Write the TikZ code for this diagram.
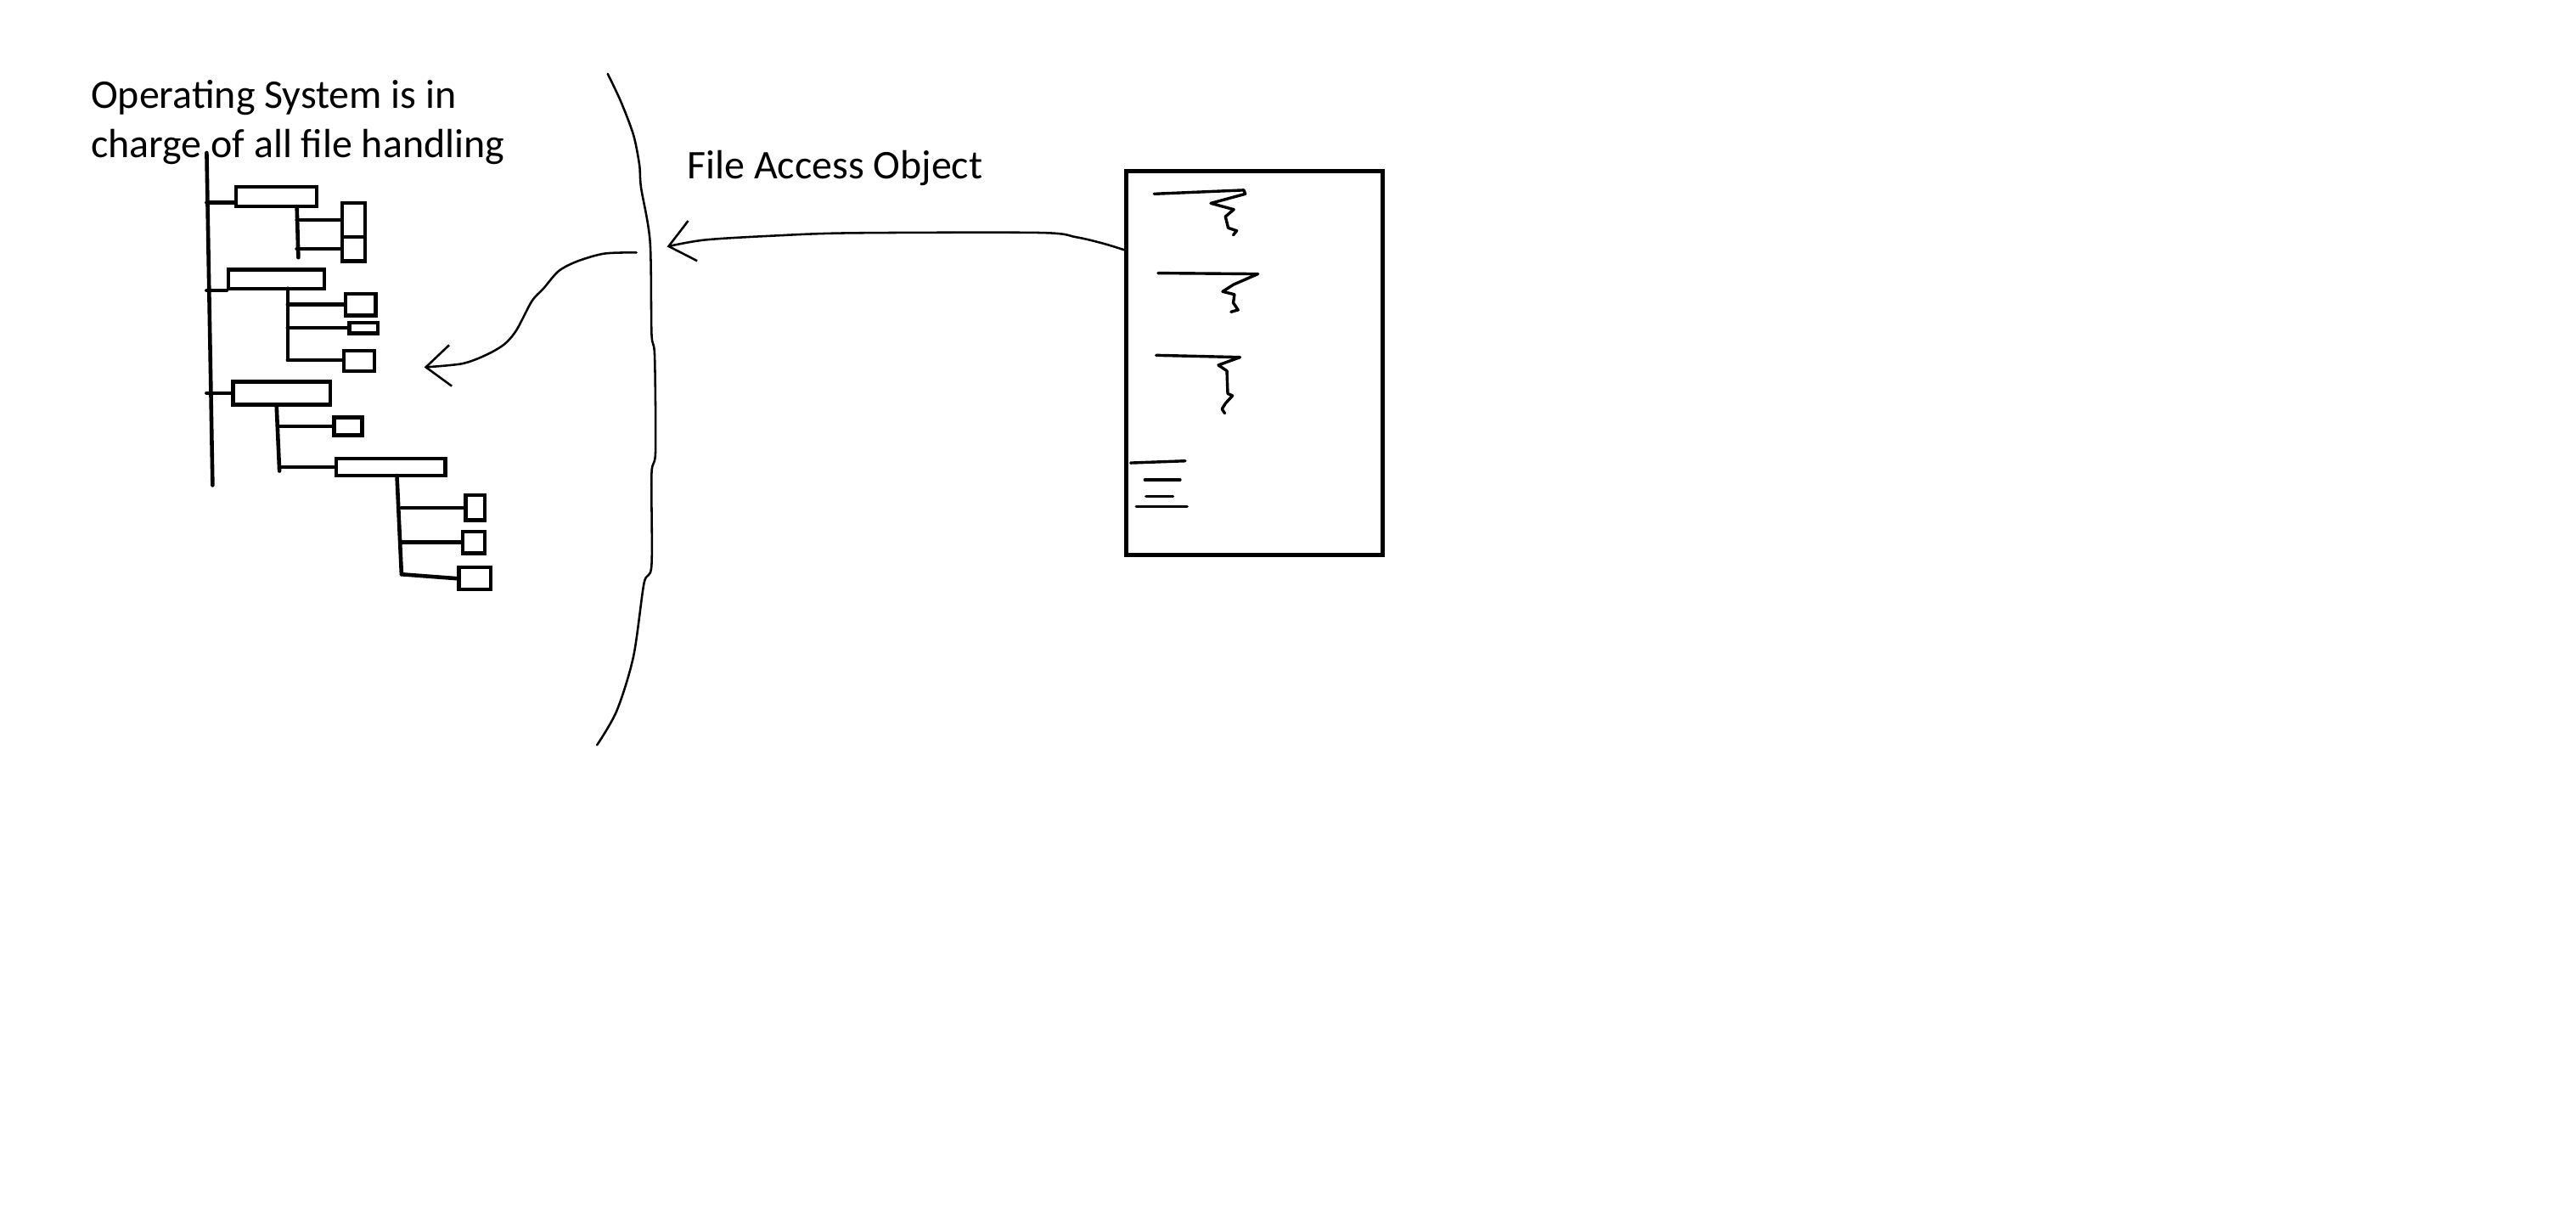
\documentclass[tikz,border=0pt]{standalone}
\usepackage{fontspec}
\setmainfont{Carlito}
\usetikzlibrary{arrows.meta,fit}
\begin{document}
\begin{tikzpicture}[x=0.02cm,y=-0.02cm]
	% Styles
	\tikzstyle{trait}=[line width=1.35pt,line cap=round]
	\tikzstyle{boite}=[draw,line width=1.3pt,inner sep=0pt]
	\tikzstyle{crayon}=[line width=0.75pt,line cap=round,line join=round]
	\tikzstyle{fleche}=[crayon,-{Straight Barb[length=3mm,width=5mm]}]
	\tikzstyle{gribouillis}=[line width=1pt,line cap=round,line join=round]
	\tikzstyle{feuillet}=[draw,line width=1.5pt,inner sep=0pt]
	\tikzstyle{texte}=[inner sep=0pt,font=\fontsize{14.1}{17}\selectfont]
	% Cadre
	\useasboundingbox (0,0) rectangle (1568,747);
	% Textes
	\node[texte,anchor=north west,align=left] (os) at (55,48.5) {Operating System is in\\charge of all file handling};
	\node[texte,anchor=base west] (fao) at (418,109) {File Access Object};
	% Arborescence : tronc
	\coordinate (T0) at (125.8,93);
	\coordinate (T1) at (129.4,295.3);
	\draw[trait] (T0)--(T1);
	% Dossier A
	\node[boite,fit={(143.8,113.6) (192.7,125.6)}] (A) {};
	\draw[trait] (A.south west|-0,123.4)--(T0|-0,123.4);
	\coordinate (A0) at (180.7,125.6);
	\coordinate (A1) at (181.6,156.7);
	\draw[trait] (A0)--(A1);
	\node[boite,fit={(208.4,123.4) (222.2,144.1)}] (Aa) {};
	\node[boite,fit={(208.4,144.1) (222.2,158.9)}] (Ab) {};
	\draw[trait] (A0|-Aa.west)--(Aa.west);
	\draw[trait] (A0|-Ab.west)--(Ab.west);
	% Dossier B
	\node[boite,fit={(139.1,164.1) (197.3,175.6)}] (B) {};
	\draw[trait] (T0|-B.south west)--(B.south west);
	\coordinate (B0) at (175.1,175.6);
	\coordinate (B1) at (175.1,219.1);
	\draw[trait] (B0)--(B1);
	\node[boite,fit={(210.2,178.9) (228.7,191.9)}] (Ba) {};
	\node[boite,fit={(212.6,196.3) (230,202.8)}] (Bb) {};
	\node[boite,fit={(209.3,213.3) (227.8,225.7)}] (Bc) {};
	\draw[trait] (B0|-Ba.west)--(Ba.west);
	\draw[trait] (B0|-Bb.west)--(Bb.west);
	\draw[trait] (B1)--(B1-|Bc.west);
	% Dossier C
	\node[boite,fit={(141.9,232.2) (201,246.3)}] (C) {};
	\draw[trait] (T0|-C.west)--(C.west);
	\coordinate (C0) at (168.3,246.3);
	\coordinate (C1) at (170.1,286.6);
	\draw[trait] (C0)--(C1);
	\node[boite,fit={(203.4,253.9) (220.4,264.8)}] (Ca) {};
	\node[boite,fit={(204.7,279) (271.1,289.4)}] (D) {};
	\draw[trait] (C1|-Ca.west)--(Ca.west);
	\draw[trait] (C1|-D.west)--(D.west);
	% Dossier D
	\coordinate (D0) at (241.6,289.4);
	\coordinate (D1) at (244.4,349.5);
	\draw[trait] (D0)--(D1);
	\node[boite,fit={(283.5,301.4) (295.1,316.6)}] (Da) {};
	\node[boite,fit={(281.6,323.5) (295.1,336.6)}] (Db) {};
	\node[boite,fit={(279.4,345.3) (298.8,358.8)}] (Dc) {};
	\draw[trait] (D1|-Da.west)--(Da.west);
	\draw[trait] (D1|-Db.west)--(Db.west);
	\draw[trait] (D1)--(Dc.west);
	% Frontiere
	\draw[crayon] plot[smooth,tension=0.5] coordinates {(369.9,44.9) (378,62) (385.6,82.2) (389.2,100.3) (390.2,114.1) (395.7,147.3) (396.6,202.7) (398.5,216.6) (399,274.8) (396.6,288.6) (396.6,344) (392,355) (385.6,399.4) (375.4,432.6) (363.4,453.4)};
	% Objet d'acces
	\node[feuillet,fit={(685.6,104.2) (841.5,337.7)}] (doc) {};
	\draw[gribouillis] (702.5,118)--(757.1,115.7)--(758,118)--(737,123.7)--(751,127.5)--(745.9,131.8)--(747.6,138.7)--(752.8,140.4)--(750.7,143);
	\draw[gribouillis] (704.9,166.2)--(765.7,166.7)--(751,173.1)--(744.2,177.4)--(751.4,179.2)--(750.7,184.3)--(753.6,188.6)--(749.3,189.8);
	\draw[gribouillis] (703.7,216.2)--(754.8,217.4)--(741.6,222.2)--(746.8,225.7)--(747.3,239.5)--(750.2,240.8)--(745.9,245.5)--(743.8,248.9)--(745.5,251.5);
	\draw[gribouillis] (688.2,281.7)--(721.4,280.5);
	\draw[gribouillis] (696.8,292)--(718.3,292);
	\draw[gribouillis] (697.6,302)--(714,302);
	\draw[gribouillis] (691.6,308.4)--(722.6,308.4);
	% Fleches
	\coordinate (docsortie) at (685.6,152.5);
	\coordinate (murD) at (406,150.1);
	\coordinate (murG) at (387.4,153.7);
	\coordinate (arbre) at (258.2,223.5);
	\draw[fleche] plot[smooth,tension=0.5] coordinates {(docsortie) (672,148.3) (655,144.3) (632,141.6) (517.5,141.8) (470,143.5) (429,146) (murD)};
	\draw[fleche] plot[smooth,tension=0.5] coordinates {(murG) (368,154.3) (351.4,159) (340,165) (330.8,175.6) (323.7,183.3) (314.5,200.7) (307.1,209.4) (296.1,215.9) (281.3,221.3) (arbre)};
\end{tikzpicture}
\end{document}
